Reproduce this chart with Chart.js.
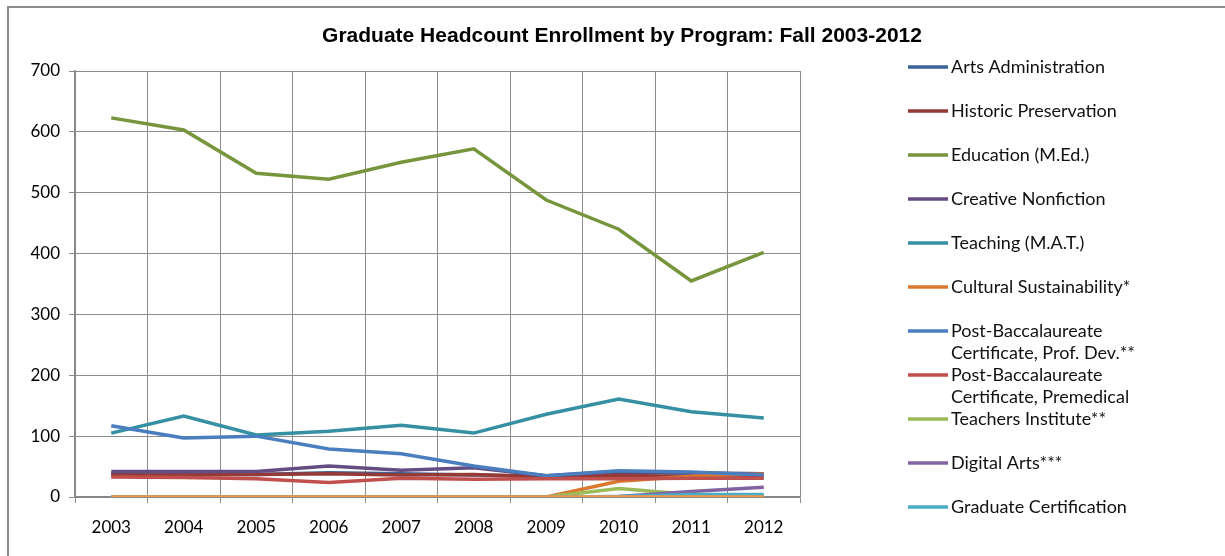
<!DOCTYPE html>
<html>
<head>
<meta charset="utf-8">
<script src="https://cdn.jsdelivr.net/npm/chart.js@4"></script>
<style>
    html, body { margin: 0; padding: 0; background: #fff; }
    #wrap { position: relative; width: 1225px; height: 556px; }
</style>
</head>
<body>
<div id="wrap"><canvas id="grafico" width="1225" height="556"></canvas></div>
<script>
let titulo = 'Graduate Headcount Enrollment by Program: Fall 2003-2012'
let anios = ['2003', '2004', '2005', '2006', '2007', '2008', '2009', '2010', '2011', '2012']
let ticksY = [0, 100, 200, 300, 400, 500, 600, 700]

let programas = [
    'Arts Administration',
    'Historic Preservation',
    'Education (M.Ed.)',
    'Creative Nonfiction',
    'Teaching (M.A.T.)',
    'Cultural Sustainability*',
    'Post-Baccalaureate Certificate, Prof. Dev.**',
    'Post-Baccalaureate Certificate, Premedical',
    'Teachers Institute**',
    'Digital Arts***',
    'Graduate Certification',
    ''
]

let artsAdmin = [38, 38, 37, 40, 38, 36, 34, 40, 39, 37]
let historic = [36, 36, 37, 38, 36, 37, 33, 36, 33, 35]
let education = [623, 603, 532, 522, 550, 572, 488, 440, 355, 402]
let nonfiction = [42, 42, 42, 51, 44, 48, 35, 42, 40, 38]
let teaching = [105, 133, 102, 108, 118, 105, 136, 161, 140, 130]
let cultural = [0, 0, 0, 0, 0, 0, 0, 26, 34, 38]
let profDev = [117, 97, 100, 79, 71, 51, 35, 43, 41, 36]
let premed = [33, 32, 30, 24, 31, 29, 30, 30, 31, 31]
let teachersInst = [0, 0, 0, 0, 0, 0, 0, 14, 4, 2]
let digitalArts = [0, 0, 0, 0, 0, 0, 0, 1, 9, 16]
let gradCert = [0, 0, 0, 0, 0, 0, 0, 1, 4, 4]
let sinNombre = [0, 0, 0, 0, 0, 0, 0, 0, 0, 0]

let series = [artsAdmin, historic, education, nonfiction, teaching, cultural,
    profDev, premed, teachersInst, digitalArts, gradCert, sinNombre]
let colores = ['#3b6496', '#963a37', '#77953c', '#634d83', '#3590a4', '#d9782f',
    '#4a7ebf', '#c0504d', '#9bbb59', '#8064a2', '#4bacc6', '#f79646']

const fuente = 'Lato, "Noto Sans", sans-serif'

function partirTexto(ctx, texto, ancho) {
    let palabras = texto.split(' ')
    let lineas = []
    let actual = ''
    palabras.forEach(p => {
        let prueba = actual ? actual + ' ' + p : p
        if (ctx.measureText(prueba).width > ancho && actual) {
            lineas.push(actual)
            actual = p
        } else {
            actual = prueba
        }
    })
    if (actual) lineas.push(actual)
    return lineas
}

// fondo, marco y titulo centrado en todo el lienzo
const marco = {
    id: 'marco',
    beforeDraw(chart) {
        const ctx = chart.ctx
        ctx.save()
        ctx.fillStyle = '#fff'
        ctx.fillRect(0, 0, chart.width, chart.height)
        ctx.strokeStyle = '#8c8c8c'
        ctx.lineWidth = 2
        ctx.strokeRect(8, 7, chart.width + 10, chart.height + 10)
        ctx.fillStyle = '#000'
        ctx.font = 'bold 21px "Liberation Sans", Arial, sans-serif'
        ctx.textAlign = 'center'
        ctx.textBaseline = 'middle'
        ctx.fillText(titulo, 622, 36)
        ctx.restore()
    }
}

// leyenda a la derecha, con etiquetas en varias lineas
const leyenda = {
    id: 'leyenda',
    afterDraw(chart) {
        const ctx = chart.ctx
        ctx.save()
        ctx.font = '18px ' + fuente
        ctx.textBaseline = 'middle'
        chart.data.datasets.forEach((ds, i) => {
            if (!ds.label) return
            let y = 67 + 44 * i
            ctx.strokeStyle = ds.borderColor
            ctx.lineWidth = 3.5
            ctx.beginPath()
            ctx.moveTo(908, y)
            ctx.lineTo(948, y)
            ctx.stroke()
            ctx.fillStyle = '#111'
            partirTexto(ctx, ds.label, 205).forEach((linea, k) => {
                ctx.fillText(linea, 951, y + 22 * k)
            })
        })
        ctx.restore()
    }
}

let datasets = series.map((valores, i) => ({
    label: programas[i],
    data: valores,
    borderColor: colores[i],
    backgroundColor: colores[i],
    borderWidth: 3.5,
    pointRadius: 0,
    tension: 0,
    order: series.length - i
}))

const ctxGrafico = document.getElementById('grafico')

var grafico = new Chart(ctxGrafico, {
    type: 'line',
    data: {
        labels: anios,
        datasets: datasets
    },
    options: {
        responsive: false,
        animation: false,
        layout: {
            padding: { left: 0, right: 425, top: 71, bottom: 0 }
        },
        plugins: {
            legend: { display: false },
            tooltip: { enabled: false },
            title: { display: false }
        },
        scales: {
            x: {
                offset: true,
                grid: {
                    offset: true,
                    color: '#8c8c8c',
                    tickLength: 6,
                    tickColor: '#8c8c8c'
                },
                border: { color: '#868686', width: 1.5 },
                ticks: {
                    color: '#000',
                    padding: 14,
                    maxRotation: 0,
                    font: { family: fuente, size: 17 }
                },
                afterFit: s => { s.height = 59 }
            },
            y: {
                min: 0,
                max: 700,
                afterBuildTicks: s => { s.ticks = ticksY.map(v => ({ value: v })) },
                grid: {
                    color: '#8c8c8c',
                    tickLength: 6,
                    tickColor: '#8c8c8c'
                },
                border: { color: '#868686', width: 1.5 },
                ticks: {
                    color: '#000',
                    padding: 9,
                    font: { family: fuente, size: 17 }
                },
                afterFit: s => { s.width = 75 }
            }
        }
    },
    plugins: [marco, leyenda]
})
</script>
</body>
</html>
